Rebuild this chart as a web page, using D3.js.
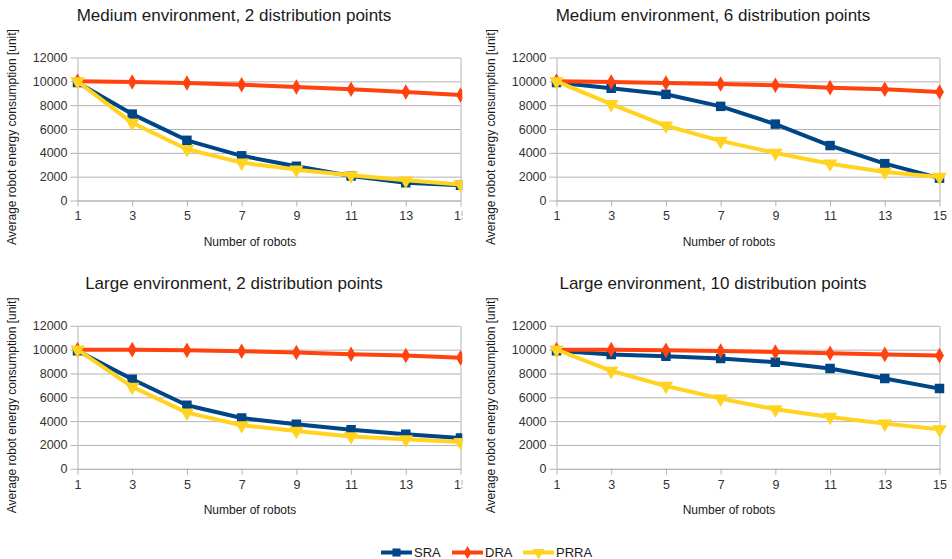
<!DOCTYPE html>
<html><head><meta charset="utf-8">
<script src="https://cdn.jsdelivr.net/npm/d3@7"></script>
<style>
body{margin:0;background:#fff}
svg{display:block}
text{font-family:"Liberation Sans",Arial,sans-serif}
</style>
</head><body>
<svg id="c" width="952" height="559"></svg>
<script>
const robots = [1, 3, 5, 7, 9, 11, 13, 15];
const yTicks = [0, 2000, 4000, 6000, 8000, 10000, 12000];
const seriesNames = ["SRA", "DRA", "PRRA"];
const seriesColors = ["#004586", "#ff420e", "#ffd320"];
const panelTitles = [
  "Medium environment, 2 distribution points",
  "Medium environment, 6 distribution points",
  "Large environment, 2 distribution points",
  "Large environment, 10 distribution points"
];
const xAxisTitle = "Number of robots";
const yAxisTitle = "Average robot energy consumption [unit]";

const medium2_SRA  = [9900, 7250, 5050, 3750, 2870, 2050, 1480, 1270];
const medium2_DRA  = [10000, 9950, 9860, 9720, 9530, 9330, 9100, 8850];
const medium2_PRRA = [10000, 6520, 4300, 3180, 2590, 2110, 1690, 1350];

const medium6_SRA  = [9900, 9420, 8910, 7900, 6410, 4610, 3090, 1880];
const medium6_DRA  = [10000, 9950, 9860, 9780, 9670, 9470, 9330, 9100];
const medium6_PRRA = [10000, 8090, 6270, 5000, 3990, 3090, 2390, 1970];

const large2_SRA  = [9900, 7510, 5330, 4260, 3730, 3280, 2890, 2580];
const large2_DRA  = [10000, 10000, 9950, 9870, 9760, 9620, 9510, 9310];
const large2_PRRA = [10000, 6870, 4710, 3650, 3170, 2720, 2470, 2240];

const large10_SRA  = [9900, 9590, 9450, 9250, 8950, 8410, 7570, 6730];
const large10_DRA  = [10000, 10000, 9940, 9880, 9800, 9690, 9600, 9500];
const large10_PRRA = [10000, 8220, 6950, 5890, 4990, 4350, 3790, 3310];

const panels = [
  {title: panelTitles[0], series: [medium2_SRA, medium2_DRA, medium2_PRRA], ox: 0,   oy: 0,     w: 462.3},
  {title: panelTitles[1], series: [medium6_SRA, medium6_DRA, medium6_PRRA], ox: 479, oy: 0,     w: 473},
  {title: panelTitles[2], series: [large2_SRA, large2_DRA, large2_PRRA],    ox: 0,   oy: 268.3, w: 462.3},
  {title: panelTitles[3], series: [large10_SRA, large10_DRA, large10_PRRA], ox: 479, oy: 268.3, w: 473}
];

const symbols = [
  d3.symbol().type(d3.symbolSquare).size(90),
  d3.symbol().type(d3.symbolDiamond).size(70),
  d3.symbol().type(d3.symbolTriangle).size(90)
];
const symbolRot = [0, 0, 180];

const svg = d3.select("#c");
const gridColor = "#b3b3b3";
const textColor = "#333";
const fmt = d3.format("d");

panels.forEach(p => {
  const g = svg.append("svg")
    .attr("x", p.ox).attr("y", p.oy)
    .attr("width", p.w).attr("height", 262)
    .style("overflow", "hidden");

  const x = d3.scaleLinear().domain([1, 15]).range([77.5, 460.5]);
  const y = d3.scaleLinear().domain([0, 12000]).range([200.5, 57.5]);
  const [x0, x1] = x.range();

  g.append("text")
    .attr("x", 234).attr("y", 20.5)
    .attr("text-anchor", "middle")
    .attr("font-size", 17)
    .attr("fill", "#1a1a1a")
    .text(p.title);

  g.append("g")
    .attr("transform", `translate(${x0},0)`)
    .call(d3.axisLeft(y).tickValues(yTicks).tickSize(-(x1 - x0)).tickFormat(""))
    .call(a => a.select(".domain").remove())
    .call(a => a.selectAll("line").attr("stroke", gridColor));

  g.append("g")
    .attr("transform", `translate(${x0},0)`)
    .call(d3.axisLeft(y).tickValues(yTicks).tickFormat(fmt).tickSize(7).tickSizeOuter(0).tickPadding(3))
    .call(a => a.select(".domain").attr("stroke", gridColor))
    .call(a => a.selectAll("line").attr("stroke", gridColor))
    .call(a => a.selectAll("text").attr("font-size", 12.5).attr("fill", textColor)
      .attr("font-family", '"Liberation Sans",Arial,sans-serif'));

  g.append("g")
    .attr("transform", `translate(${x1},0)`)
    .call(d3.axisRight(y).tickValues([]).tickSizeOuter(0))
    .call(a => a.select(".domain").attr("stroke", gridColor));

  g.append("g")
    .attr("transform", `translate(0,${y(0)})`)
    .call(d3.axisBottom(x).tickValues(robots).tickFormat(fmt).tickSize(6).tickSizeOuter(0).tickPadding(5))
    .call(a => a.select(".domain").attr("stroke", gridColor))
    .call(a => a.selectAll("line").attr("stroke", gridColor))
    .call(a => a.selectAll("text").attr("font-size", 12.5).attr("fill", textColor)
      .attr("font-family", '"Liberation Sans",Arial,sans-serif'));

  g.append("text")
    .attr("x", 250).attr("y", 246)
    .attr("text-anchor", "middle")
    .attr("font-size", 12)
    .attr("fill", "#1a1a1a")
    .text(xAxisTitle);

  g.append("text")
    .attr("transform", "translate(16,137) rotate(-90)")
    .attr("text-anchor", "middle")
    .attr("font-size", 12)
    .attr("fill", "#1a1a1a")
    .text(yAxisTitle);

  const line = d3.line().x((d, i) => x(robots[i])).y(d => y(d));
  p.series.forEach((vals, si) => {
    const sg = g.append("g");
    sg.append("path")
      .attr("d", line(vals))
      .attr("fill", "none")
      .attr("stroke", seriesColors[si])
      .attr("stroke-width", 4)
      .attr("stroke-linejoin", "round");
    sg.selectAll("path.m").data(vals).join("path")
      .attr("class", "m")
      .attr("d", symbols[si])
      .attr("transform", (d, i) => `translate(${x(robots[i])},${y(d)}) rotate(${symbolRot[si]})`)
      .attr("fill", seriesColors[si]);
  });
});

const legendX = [381, 452, 523];
const legend = svg.append("g").attr("transform", "translate(0,552.5)");
seriesNames.forEach((name, i) => {
  const lg = legend.append("g").attr("transform", `translate(${legendX[i]},0)`);
  lg.append("line").attr("x1", 0).attr("x2", 31).attr("y1", 0).attr("y2", 0)
    .attr("stroke", seriesColors[i]).attr("stroke-width", 4);
  lg.append("path").attr("d", symbols[i])
    .attr("transform", `translate(15.5,0) rotate(${symbolRot[i]}) scale(0.85)`)
    .attr("fill", seriesColors[i]);
  lg.append("text").attr("x", 33).attr("y", 4.6)
    .attr("font-size", 13).attr("fill", "#1a1a1a").text(name);
});
</script>
</body></html>
